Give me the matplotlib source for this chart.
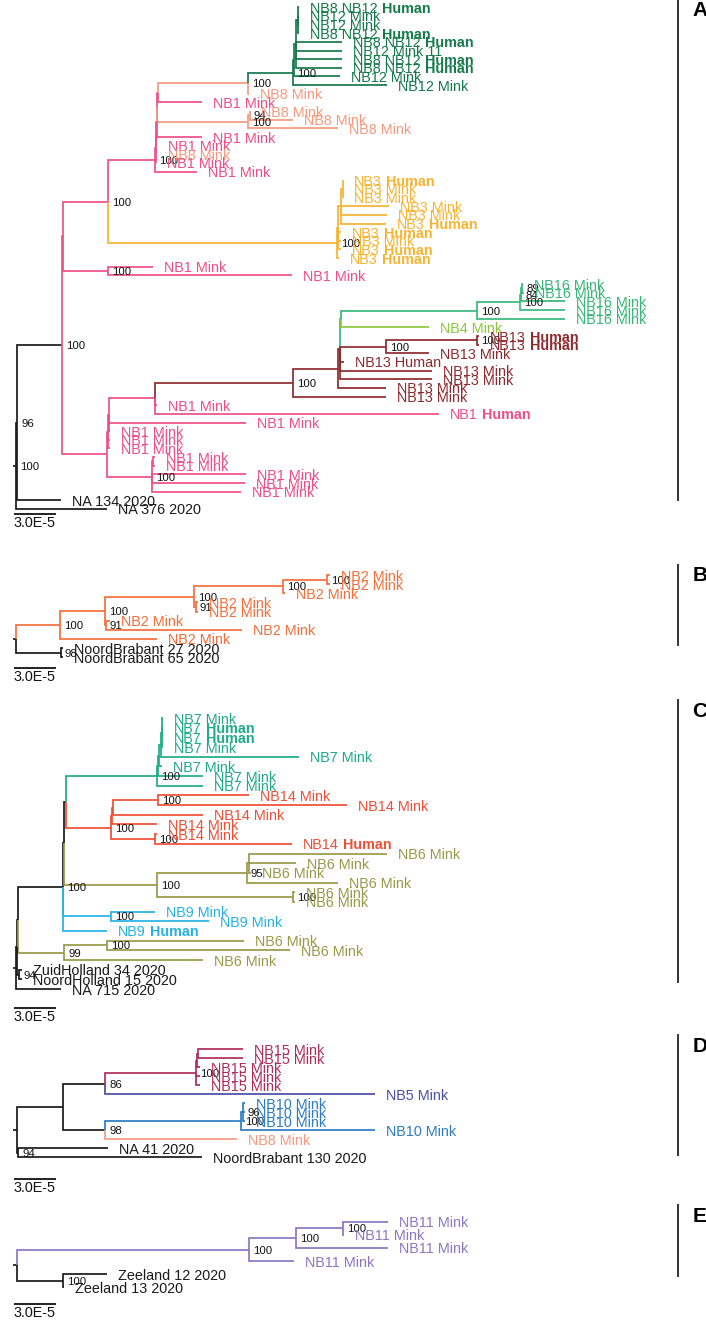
import matplotlib
matplotlib.use('Agg')
import matplotlib.pyplot as plt
from matplotlib.collections import LineCollection
from matplotlib.lines import Line2D

plt.rcParams['font.family'] = ['Liberation Sans', 'DejaVu Sans']

# ---- data: Newick trees, branch lengths in 1e-6 substitutions/site ----
# '|' in a tip name marks the part printed in bold; '@NBx' forces a node state

# panel A
NB12_CLADE = ("(((('NB8 NB12|Human':0.71,'NB12 Mink':0.71,'NB12 Mink':0.71,'NB8 NB12|Human':0.71):1.43,"
              "'NB8 NB12|Human':32.9,'NB12 Mink 11':32.9,'NB8 NB12|Human':32.9,'NB8 NB12|Human':32.9):1.43,"
              "'NB12 Mink':32.9):0.71,'NB12 Mink':67.1)100")
NB8_12 = "(" + NB12_CLADE + ":32.1,'NB8 Mink':0.71)100@NB8"
NB8_PAIR = "(('NB8 Mink':0.36,'NB8 Mink':31.1)94:1.07,'NB8 Mink':64.3)100"
NB1_A = ("((((((" + NB8_12 + ":64.6,'NB1 Mink':31.8)@NB1:0.36," + NB8_PAIR + ":65)@NB1:0.36,"
         "'NB1 Mink':32.5)@NB1:0.36,'NB1 Mink':0.71)@NB1:0.36,'NB8 Mink':1.07,'NB1 Mink':0.36)@NB1:0.36,"
         "'NB1 Mink':30)100@NB1")
NB3_CLADE = ("(((('NB3|Human':0.36,'NB3 Mink':0.36,'NB3 Mink':0.36):1.07,'NB3 Mink':34.3,'NB3 Mink':32.9,"
             "'NB3|Human':32.1):2.14,'NB3|Human':2.14,'NB3 Mink':2.14,'NB3|Human':2.14):0.71,'NB3|Human':1.43)100")
UPPER_A = ("((" + NB1_A + ":33.6," + NB3_CLADE + ":163.6)100@NB1:31.8,"
           "('NB1 Mink':32.1,'NB1 Mink':131.4)100:31.8)@NB1")
NB16_CLADE = ("(((('NB16 Mink':0.71,'NB16 Mink':1.43)89:0.71,'NB16 Mink':31.4)84:0.71,"
              "'NB16 Mink':32.1)100:30.7,'NB16 Mink':62.9)100")
NB13_CLADE = ("(((" + "(" + NB16_CLADE + ":97.1,'NB4 Mink':62.9)@NB16:0.71,"
              "(('NB13|Human':1.43,'NB13|Human':1.43)100:65,'NB13 Mink':30.7)100:32.9,"
              "'NB13 Human':2.86,'NB13 Mink':65.7,'NB13 Mink':65.7)@NB13:1.79,'NB13 Mink':34.6)@NB13:31.8,"
              "'NB13 Mink':66.4)100@NB13")
LOWER_A = ("((((" + NB13_CLADE + ":98.6,'NB1 Mink':1.43,'NB1|Human':202.9)@NB1:32.9,'NB1 Mink':97.9,"
           "'NB1 Mink':0.71)@NB1:0.71,'NB1 Mink':1.43,'NB1 Mink':1.43)@NB1:0.71,"
           "(('NB1 Mink':1.43,'NB1 Mink':1.43):0.71,'NB1 Mink':67.1,'NB1 Mink':66.4,'NB1 Mink':63.6)100:32.1)@NB1")
TREE_A = ("(((" + UPPER_A + ":0.71," + LOWER_A + ":31.8)100:32.5,'NA 134 2020':31.4)96:0.71,"
          "'NA 376 2020':65)100:2.14;")

# panel B
TREE_B = ("(((((('NB2 Mink':2.14,'NB2 Mink':2.14)100:31.4,'NB2 Mink':1.43)100:63.6,"
          "('NB2 Mink':1.43,'NB2 Mink':1.43)91:1.43)100:63.6,('NB2 Mink':2.86,'NB2 Mink':97.1)91:0.71)100:32.1,"
          "'NB2 Mink':69.3)100:31.4,('NoordBrabant 27 2020':1.43,'NoordBrabant 65 2020':1.43)98:32.1):2.14;")

# panel C
NB7_CLADE = ("((((('NB7 Mink':0.71,'NB7|Human':0.71,'NB7|Human':0.71,'NB7 Mink':0.71):0.71,'NB7 Mink':98.6):1.43,"
             "'NB7 Mink':2.14):0.71,'NB7 Mink':32.1):0.71,'NB7 Mink':32.9)100")
NB14_CLADE = ("(((('NB14 Mink':65,'NB14 Mink':135)100:32.1,'NB14 Mink':64.3):0.71,'NB14 Mink':32.1):0.71,"
              "('NB14 Mink':1.43,'NB14|Human':97.9)100:31.4)100")
NB6_CLADE = ("((('NB6 Mink':98.6,'NB6 Mink':33.6,'NB6 Mink':1.43):1.43,'NB6 Mink':65)95:64.3,"
             "('NB6 Mink':1.43,'NB6 Mink':1.43)100:97.1)100")
NB9_CLADE = "('NB9 Mink':31.4,'NB9 Mink':70)100"
NB6_BASAL = "(('NB6 Mink':97.9,'NB6 Mink':130.7)100:30.7,'NB6 Mink':99.3)99"
MAIN_C = ("(((" + NB7_CLADE + ":65," + NB14_CLADE + ":32.1):1.43," + NB6_CLADE + ":66.4):0.71,"
          + NB9_CLADE + ":34.3,'NB9|Human':31.4)100")
TREE_C = ("(((" + MAIN_C + ":32.1," + NB6_BASAL + ":32.9):0.71,"
          "('ZuidHolland 34 2020':2.14,'NoordHolland 15 2020':2.14)94:1.43):0.71,'NA 715 2020':32.1):2.14;")

# panel D
TREE_D = ("(((((('NB15 Mink':32.1,'NB15 Mink':32.1):0.71,'NB15 Mink':2.14):0.71,'NB15 Mink':2.86,"
          "'NB15 Mink':2.86)100:65,'NB5 Mink':192.9)86:30.4,((('NB10 Mink':1.43,'NB10 Mink':1.43,"
          "'NB10 Mink':1.43)96:1.43,'NB10 Mink':95.7)100:97.1,'NB8 Mink':94.3)98:30.4):32.5,"
          "('NA 41 2020':64.3,'NoordBrabant 130 2020':131.4)94:0.71):2.86;")

# panel E
TREE_E = ("(((('NB11 Mink':32.1,'NB11 Mink':0.71)100:33.6,'NB11 Mink':65.7)100:33.6,'NB11 Mink':32.1)100:165.7,"
          "('Zeeland 12 2020':31.4,'Zeeland 13 2020':0.71)100:32.9):2.86;")

PANEL_LETTERS = ['A', 'B', 'C', 'D', 'E']
SCALE_VALUE = 30  # 3.0E-5 in units of 1e-6
SCALE_TEXT = '3.0E-5'

COLORS = {
    'bg': '#1a1a1a', 'NB1': '#EE4F86', 'NB2': '#F36F3B', 'NB3': '#F6B431', 'NB4': '#8DC63F',
    'NB5': '#4A4DA8', 'NB6': '#99994A', 'NB7': '#1FAA8A', 'NB8': '#F59A80', 'NB9': '#27B2E6',
    'NB10': '#2D7CC4', 'NB11': '#8A78C2', 'NB12': '#167A4C', 'NB13': '#8E2A2E', 'NB14': '#F04E37',
    'NB15': '#B02D57', 'NB16': '#39B87A',
}

# ---- layout (pixels) ----
W, H = 706, 1320
PX_PER_UNIT = 1.4
X0 = 13
# first tip y, tip spacing, scale bar y, bracket top/bottom
PANELS = [
    (TREE_A, 7.3, 8.65, 514, (0, 500)),
    (TREE_B, 575, 9.14, 668, (565, 645)),
    (TREE_C, 718, 9.68, 1008, (700, 982)),
    (TREE_D, 1049.3, 9.0, 1179, (1035, 1155)),
    (TREE_E, 1221.7, 13.12, 1304, (1205, 1276)),
]
FS = 10.4
FS_SUP = 8.2


def parse_newick(text):
    pos = 0

    def read_node():
        nonlocal pos
        node = {'kids': [], 'name': '', 'len': 0.0}
        if text[pos] == '(':
            pos += 1
            node['kids'].append(read_node())
            while text[pos] == ',':
                pos += 1
                node['kids'].append(read_node())
            pos += 1
        if text[pos] == "'":
            end = text.index("'", pos + 1)
            node['name'] = text[pos + 1:end]
            pos = end + 1
        else:
            start = pos
            while text[pos] not in ':,();':
                pos += 1
            node['name'] = text[start:pos]
        if text[pos] == ':':
            pos += 1
            start = pos
            while text[pos] not in ',();':
                pos += 1
            node['len'] = float(text[start:pos])
        return node

    return read_node()


def place(node, x0, counter, parent=None):
    node['x'] = x0 + node['len']
    node['parent'] = parent
    if node['kids']:
        for k in node['kids']:
            place(k, node['x'], counter, node)
        node['y'] = (node['kids'][0]['y'] + node['kids'][-1]['y']) / 2
    else:
        node['y'] = counter[0]
        counter[0] += 1


def cluster(name):
    tags = [t for t in name.replace('|', ' ').split() if t.startswith('NB') and t[2:].isdigit()]
    return tags[-1] if tags else 'bg'


def set_state(node):
    if not node['kids']:
        node['state'] = cluster(node['name'])
        node['support'] = ''
        return {node['state']}
    found = set()
    for k in node['kids']:
        found |= set_state(k)
    support, _, forced = node['name'].partition('@')
    node['support'] = support
    if forced:
        node['state'] = forced
    else:
        node['state'] = next(iter(found)) if len(found) == 1 else 'bg'
    return found


def walk(node):
    yield node
    for k in node['kids']:
        yield from walk(k)


fig = plt.figure(figsize=(W / 100, H / 100), dpi=100)

for (tree_text, y0, dy, bar_px, bracket), letter in zip(PANELS, PANEL_LETTERS):
    ax = fig.add_axes([0, 0, 1, 1])
    ax.set_axis_off()
    ax.patch.set_alpha(0)
    ax.set_xlim(-X0 / PX_PER_UNIT, (W - X0) / PX_PER_UNIT)
    ax.set_ylim((H - y0) / dy, -y0 / dy)

    root = parse_newick(tree_text)
    place(root, 0.0, [0])
    set_state(root)

    segs = [[(0, root['y']), (root['x'], root['y'])]]
    cols = [COLORS['bg']]
    for n in walk(root):
        p = n['parent']
        if p is None:
            continue
        segs.append([(p['x'], p['y']), (p['x'], n['y']), (n['x'], n['y'])])
        cols.append(COLORS[n['state']])
    ax.add_collection(LineCollection(segs, colors=cols, linewidths=1.25,
                                     capstyle='butt', joinstyle='miter'))

    for n in walk(root):
        c = COLORS[n['state']]
        if not n['kids']:
            parts = n['name'].split('|')
            t1 = ax.annotate(parts[0], (n['x'], n['y']), xytext=(7.9, 0), textcoords='offset points',
                             va='center_baseline', ha='left', fontsize=FS, color=c)
            if len(parts) > 1:
                ax.annotate(parts[1], xy=(1, 0), xycoords=t1, xytext=(2.9, 0),
                            textcoords='offset points', va='bottom', ha='left',
                            fontsize=FS, fontweight='bold', color=c)
        elif n['support']:
            ax.annotate(n['support'], (n['x'], n['y']), xytext=(2.9, 0), textcoords='offset points',
                        va='center_baseline', ha='left', fontsize=FS_SUP, color='#111111')

    yb = (bar_px - y0) / dy
    xs = (14 - X0) / PX_PER_UNIT
    ax.plot([xs, xs + SCALE_VALUE], [yb, yb], color='#111111', lw=1.3, solid_capstyle='butt')
    ax.annotate(SCALE_TEXT, (xs, yb), xytext=(0, -1.5), textcoords='offset points',
                va='top', ha='left', fontsize=FS, color='#111111')

    top, bottom = bracket
    fig.add_artist(Line2D([678 / W, 678 / W], [1 - top / H, 1 - bottom / H],
                          transform=fig.transFigure, color='#333333', lw=1.4))
    fig.text(700 / W, 1 - (top + 11) / H, letter, ha='center', va='center', fontsize=15,
             fontweight='bold', family=['Liberation Sans Narrow', 'Liberation Sans'])

fig.savefig('out.png', dpi=100)
